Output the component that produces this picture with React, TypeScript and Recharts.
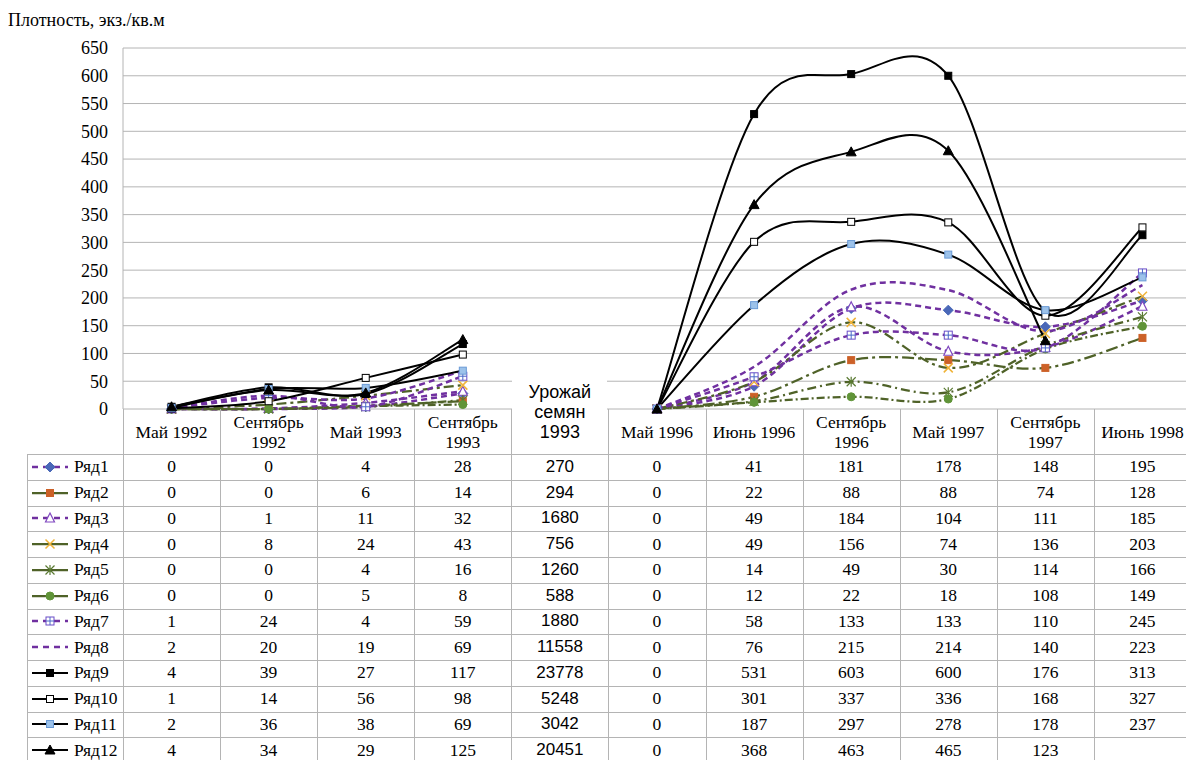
import React from 'react';
import { LineChart, Line, XAxis, YAxis, CartesianGrid } from 'recharts';

// подписи категорий (шапка таблицы)
const categories = [
  'Май 1992',
  'Сентябрь\n1992',
  'Май 1993',
  'Сентябрь\n1993',
  'Урожай\nсемян\n1993',
  'Май 1996',
  'Июнь 1996',
  'Сентябрь\n1996',
  'Май 1997',
  'Сентябрь\n1997',
  'Июнь 1998',
];
const HARVEST_COL = 4;

const yTicks = [0, 50, 100, 150, 200, 250, 300, 350, 400, 450, 500, 550, 600, 650];

// плотность по рядам (null — нет на графике)
const ryad1 = [0, 0, 4, 28, null, 0, 41, 181, 178, 148, 195];
const ryad2 = [0, 0, 6, 14, null, 0, 22, 88, 88, 74, 128];
const ryad3 = [0, 1, 11, 32, null, 0, 49, 184, 104, 111, 185];
const ryad4 = [0, 8, 24, 43, null, 0, 49, 156, 74, 136, 203];
const ryad5 = [0, 0, 4, 16, null, 0, 14, 49, 30, 114, 166];
const ryad6 = [0, 0, 5, 8, null, 0, 12, 22, 18, 108, 149];
const ryad7 = [1, 24, 4, 59, null, 0, 58, 133, 133, 110, 245];
const ryad8 = [2, 20, 19, 69, null, 0, 76, 215, 214, 140, 223];
const ryad9 = [4, 39, 27, 117, null, 0, 531, 603, 600, 176, 313];
const ryad10 = [1, 14, 56, 98, null, 0, 301, 337, 336, 168, 327];
const ryad11 = [2, 36, 38, 69, null, 0, 187, 297, 278, 178, 237];
const ryad12 = [4, 34, 29, 125, null, 0, 368, 463, 465, 123, null];

// урожай семян 1993 (только в таблице)
const harvest1993 = [270, 294, 1680, 756, 1260, 588, 1880, 11558, 23778, 5248, 3042, 20451];

const PURPLE = '#7030A0';
const GREEN = '#4F6228';
const BLACK = '#000000';

const series = [
  { key: 'r1', name: 'Ряд1', values: ryad1, color: PURPLE, dash: '6 4', width: 2.5, marker: 'diamond', mFill: '#4A68B8', mStroke: '#4A68B8' },
  { key: 'r2', name: 'Ряд2', values: ryad2, color: GREEN, dash: '12 4 3 4', width: 2.25, marker: 'square', mFill: '#CC6128', mStroke: '#CC6128' },
  { key: 'r3', name: 'Ряд3', values: ryad3, color: PURPLE, dash: '6 4', width: 2.5, marker: 'triangleOpen', mFill: '#ffffff', mStroke: '#8048C0' },
  { key: 'r4', name: 'Ряд4', values: ryad4, color: GREEN, dash: '10 4 3 4', width: 2.25, marker: 'x', mFill: 'none', mStroke: '#F0B43A' },
  { key: 'r5', name: 'Ряд5', values: ryad5, color: GREEN, dash: '9 4 2 4', width: 2.25, marker: 'star', mFill: 'none', mStroke: '#5A7A32' },
  { key: 'r6', name: 'Ряд6', values: ryad6, color: GREEN, dash: '8 3 2 3', width: 2.25, marker: 'circle', mFill: '#609438', mStroke: '#609438' },
  { key: 'r7', name: 'Ряд7', values: ryad7, color: PURPLE, dash: '6 4', width: 2.5, marker: 'squarePlus', mFill: '#ffffff', mStroke: '#6A4CC8' },
  { key: 'r8', name: 'Ряд8', values: ryad8, color: PURPLE, dash: '6 4', width: 2.5, marker: 'none', mFill: 'none', mStroke: 'none' },
  { key: 'r9', name: 'Ряд9', values: ryad9, color: BLACK, dash: undefined, width: 2, marker: 'square', mFill: '#000000', mStroke: '#000000' },
  { key: 'r10', name: 'Ряд10', values: ryad10, color: BLACK, dash: undefined, width: 2, marker: 'square', mFill: '#ffffff', mStroke: '#000000' },
  { key: 'r11', name: 'Ряд11', values: ryad11, color: BLACK, dash: undefined, width: 2, marker: 'square', mFill: '#9CC2EA', mStroke: '#6A9AD6' },
  { key: 'r12', name: 'Ряд12', values: ryad12, color: BLACK, dash: undefined, width: 2, marker: 'triangle', mFill: '#000000', mStroke: '#000000' },
];

const data = categories.map((cat, i) => {
  const row: any = { cat };
  series.forEach((s) => (row[s.key] = s.values[i]));
  return row;
});

// сглаживание как в Excel (Catmull-Rom)
function excelCurve(context: any) {
  let pts: number[][] = [];
  return {
    areaStart() {},
    areaEnd() {},
    lineStart() {
      pts = [];
    },
    lineEnd() {
      const n = pts.length;
      if (!n) return;
      context.moveTo(pts[0][0], pts[0][1]);
      if (n === 2) {
        context.lineTo(pts[1][0], pts[1][1]);
        return;
      }
      for (let i = 0; i < n - 1; i++) {
        const p0 = pts[i - 1] || pts[i];
        const p1 = pts[i];
        const p2 = pts[i + 1];
        const p3 = pts[i + 2] || p2;
        context.bezierCurveTo(
          p1[0] + (p2[0] - p0[0]) / 6,
          p1[1] + (p2[1] - p0[1]) / 6,
          p2[0] - (p3[0] - p1[0]) / 6,
          p2[1] - (p3[1] - p1[1]) / 6,
          p2[0],
          p2[1]
        );
      }
    },
    point(x: number, y: number) {
      pts.push([+x, +y]);
    },
  };
}

function Marker({ kind, cx, cy, fill, stroke }: any) {
  switch (kind) {
    case 'diamond':
      return <path d={`M${cx},${cy - 5}L${cx + 5},${cy}L${cx},${cy + 5}L${cx - 5},${cy}Z`} fill={fill} stroke={stroke} />;
    case 'square':
      return <rect x={cx - 3.5} y={cy - 3.5} width={7} height={7} fill={fill} stroke={stroke} strokeWidth={1} />;
    case 'squarePlus':
      return (
        <g>
          <rect x={cx - 4} y={cy - 4} width={8} height={8} fill={fill} stroke={stroke} strokeWidth={1} />
          <path d={`M${cx - 4},${cy}H${cx + 4}M${cx},${cy - 4}V${cy + 4}`} stroke="#4A68C8" strokeWidth={1} />
        </g>
      );
    case 'triangle':
      return <path d={`M${cx},${cy - 5}L${cx + 5},${cy + 4}L${cx - 5},${cy + 4}Z`} fill={fill} stroke={stroke} />;
    case 'triangleOpen':
      return <path d={`M${cx},${cy - 5}L${cx + 4.5},${cy + 4}L${cx - 4.5},${cy + 4}Z`} fill={fill} stroke={stroke} strokeWidth={1.2} />;
    case 'x':
      return <path d={`M${cx - 4.5},${cy - 4.5}L${cx + 4.5},${cy + 4.5}M${cx + 4.5},${cy - 4.5}L${cx - 4.5},${cy + 4.5}`} stroke={stroke} strokeWidth={1.5} />;
    case 'star':
      return (
        <path
          d={`M${cx - 4.5},${cy - 4.5}L${cx + 4.5},${cy + 4.5}M${cx + 4.5},${cy - 4.5}L${cx - 4.5},${cy + 4.5}M${cx},${cy - 5}V${cy + 5}`}
          stroke={stroke}
          strokeWidth={1.2}
        />
      );
    case 'circle':
      return <circle cx={cx} cy={cy} r={4} fill={fill} stroke={stroke} />;
    default:
      return null;
  }
}

const renderDot = (s: any) => (props: any) => {
  const { cx, cy, index } = props;
  if (cx == null || cy == null || s.marker === 'none') return <g key={`${s.key}-${index}`} />;
  return (
    <g key={`${s.key}-${index}`}>
      <Marker kind={s.marker} cx={cx} cy={cy} fill={s.mFill} stroke={s.mStroke} />
    </g>
  );
};

function LegendKey({ s }: any) {
  return (
    <svg width={36} height={14} style={{ display: 'block' }}>
      <line x1={0} y1={7} x2={36} y2={7} stroke={s.color} strokeWidth={s.width} strokeDasharray={s.color === PURPLE ? '6 5' : undefined} />
      <Marker kind={s.marker} cx={18} cy={7} fill={s.mFill} stroke={s.mStroke} />
    </svg>
  );
}

// размеры
const PLOT_LEFT = 123;
const PLOT_RIGHT = 1191;
const PLOT_TOP = 48;
const PLOT_BOTTOM = 409;
const CHART_W = 1200;
const CHART_H = 432;
const BAND = (PLOT_RIGHT - PLOT_LEFT) / categories.length;
const HEAD_BOTTOM = 454;
const ROW_H = 25.75;
const LEGEND_LEFT = 27;
const GRID = '#b4b4b4';
const SERIF = 'Liberation Serif, DejaVu Serif, serif';
const SANS = 'Liberation Sans, Arial, sans-serif';

export default function App() {
  const colX = (i: number) => PLOT_LEFT + i * BAND;
  const rowY = (k: number) => HEAD_BOTTOM + k * ROW_H;

  return (
    <div
      style={{
        position: 'fixed',
        left: 0,
        top: 0,
        width: 1186,
        height: 760,
        overflow: 'hidden',
        background: '#fff',
        fontFamily: SERIF,
        color: '#000',
      }}
    >
      <div style={{ position: 'absolute', left: 8, top: 10, fontSize: 18 }}>Плотность, экз./кв.м</div>

      <div style={{ position: 'absolute', left: 0, top: 0 }}>
        <LineChart
          width={CHART_W}
          height={CHART_H}
          data={data}
          margin={{ top: PLOT_TOP, right: CHART_W - PLOT_RIGHT, bottom: CHART_H - PLOT_BOTTOM, left: 0 }}
        >
          <CartesianGrid vertical={false} stroke={GRID} strokeWidth={1} />
          <XAxis dataKey="cat" hide padding={{ left: BAND / 2, right: BAND / 2 }} />
          <YAxis
            width={PLOT_LEFT}
            domain={[0, 650]}
            ticks={yTicks}
            interval={0}
            tickLine={false}
            axisLine={{ stroke: GRID }}
            tickMargin={9}
            tick={{ fill: '#000', fontSize: 18, fontFamily: SERIF }}
          />
          {series.map((s) => (
            <Line
              key={s.key}
              dataKey={s.key}
              name={s.name}
              type={excelCurve as any}
              stroke={s.color}
              strokeWidth={s.width}
              strokeDasharray={s.dash}
              dot={renderDot(s)}
              activeDot={false}
              isAnimationActive={false}
            />
          ))}
        </LineChart>
      </div>

      {/* белая плашка под заголовком "Урожай семян" */}
      <div
        style={{
          position: 'absolute',
          left: colX(HARVEST_COL) + 1,
          top: 377,
          width: BAND - 2,
          height: HEAD_BOTTOM - 377,
          background: '#fff',
        }}
      />

      {/* шапка */}
      {categories.map((c, i) => (
        <div
          key={c}
          style={{
            position: 'absolute',
            left: colX(i),
            top: i === HARVEST_COL ? 380 : PLOT_BOTTOM,
            width: BAND,
            height: i === HARVEST_COL ? 64 : HEAD_BOTTOM - PLOT_BOTTOM,
            display: 'flex',
            alignItems: 'center',
            justifyContent: 'center',
            textAlign: 'center',
            whiteSpace: 'pre-line',
            fontSize: i === HARVEST_COL ? 18 : 17.5,
            lineHeight: '20px',
            fontFamily: i === HARVEST_COL ? SANS : SERIF,
          }}
        >
          {c}
        </div>
      ))}

      {/* линии таблицы */}
      {categories.map((_, i) => (
        <div key={`v${i}`} style={{ position: 'absolute', left: colX(i), top: PLOT_BOTTOM, width: 1, height: 760 - PLOT_BOTTOM, background: GRID }} />
      ))}
      <div style={{ position: 'absolute', left: LEGEND_LEFT, top: HEAD_BOTTOM, width: 1, height: 760 - HEAD_BOTTOM, background: GRID }} />
      {series.map((_, k) => (
        <div key={`h${k}`} style={{ position: 'absolute', left: LEGEND_LEFT, top: rowY(k), width: PLOT_RIGHT - LEGEND_LEFT, height: 1, background: GRID }} />
      ))}

      {/* строки */}
      {series.map((s, k) => (
        <React.Fragment key={`row${s.key}`}>
          <div
            style={{
              position: 'absolute',
              left: LEGEND_LEFT + 5,
              top: rowY(k),
              height: ROW_H,
              display: 'flex',
              alignItems: 'center',
              fontSize: 17.5,
            }}
          >
            <LegendKey s={s} />
            <span style={{ marginLeft: 6 }}>{s.name}</span>
          </div>
          {categories.map((_, i) => {
            const v = i === HARVEST_COL ? harvest1993[k] : s.values[i];
            return (
              <div
                key={`${s.key}c${i}`}
                style={{
                  position: 'absolute',
                  left: colX(i),
                  top: rowY(k),
                  width: BAND,
                  height: ROW_H,
                  display: 'flex',
                  alignItems: 'center',
                  justifyContent: 'center',
                  fontSize: i === HARVEST_COL ? 17 : 17.5,
                  fontFamily: i === HARVEST_COL ? SANS : SERIF,
                }}
              >
                {v == null ? '' : v}
              </div>
            );
          })}
        </React.Fragment>
      ))}
    </div>
  );
}
